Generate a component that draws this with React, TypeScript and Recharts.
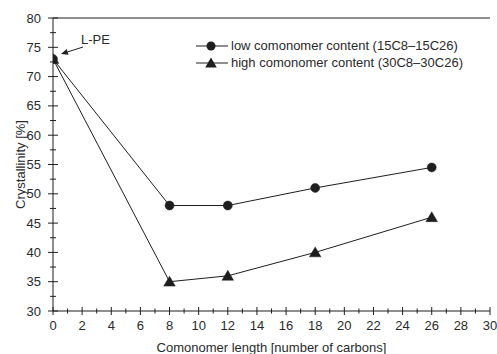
import React from 'react';
import { LineChart, Line, XAxis, YAxis, Legend, ReferenceLine, LabelList } from 'recharts';

// Comonomer length (number of carbons) and crystallinity (%) for the two series
const carbons = [0, 8, 12, 18, 26];
const lowContent = [73, 48, 48, 51, 54.5];
const highContent = [73, 35, 36, 40, 46];

const lowName = 'low comonomer content (15C8\u201315C26)';
const highName = 'high comonomer content (30C8\u201330C26)';
const seriesOrder = [lowName, highName];

const xTicks = [0, 1, 2, 3, 4, 5, 6, 7, 8, 9, 10, 11, 12, 13, 14, 15, 16, 17, 18, 19, 20, 21, 22, 23, 24, 25, 26, 27, 28, 29, 30];
const yTicks = [30, 32.5, 35, 37.5, 40, 42.5, 45, 47.5, 50, 52.5, 55, 57.5, 60, 62.5, 65, 67.5, 70, 72.5, 75, 77.5, 80];

const data = carbons.map((c, i) => ({ c, low: lowContent[i], high: highContent[i] }));

const INK = '#1e1e1e';
const TEXT = '#2a2a2a';
const FONT = '"Liberation Sans", Arial, sans-serif';
const FS = 13;

const XTick = (props: any) => {
  const { x, y, payload } = props;
  const major = payload.value % 2 === 0;
  const len = major ? 4 : 2.5;
  return (
    <g>
      <line x1={x} x2={x} y1={y - len} y2={y + len} stroke={INK} strokeWidth={1} />
      {major && (
        <text x={x} y={y + 19} textAnchor="middle" fill={TEXT} fontFamily={FONT} fontSize={FS}>
          {payload.value}
        </text>
      )}
    </g>
  );
};

const YTick = (props: any) => {
  const { x, y, payload } = props;
  const major = payload.value % 5 === 0;
  const len = major ? 5 : 3;
  return (
    <g>
      <line x1={x - len} x2={x + len} y1={y} y2={y} stroke={INK} strokeWidth={1} />
      {major && (
        <text x={x - 12} y={y + 4.5} textAnchor="end" fill={TEXT} fontFamily={FONT} fontSize={FS}>
          {payload.value}
        </text>
      )}
    </g>
  );
};

const RightTick = (props: any) => {
  const { x, y } = props;
  return <line x1={x - 4} x2={x} y1={y} y2={y} stroke={INK} strokeWidth={1} />;
};

const Triangle = (props: any) => {
  const { cx, cy, index } = props;
  if (cx == null || cy == null) return <g key={index} />;
  const s = 5.5;
  return (
    <path
      key={index}
      d={`M${cx},${cy - s} L${cx + s * 1.05},${cy + s * 0.8} L${cx - s * 1.05},${cy + s * 0.8} Z`}
      fill={INK}
      stroke={INK}
      strokeWidth={0.5}
    />
  );
};

const LpeNote = (props: any) => {
  const { x, y, index } = props;
  if (index !== 0) return null;
  const hx = x + 8;
  const hy = y - 5;
  const tx = x + 30;
  const ty = y - 12;
  const ang = Math.atan2(hy - ty, hx - tx);
  const L = 7;
  const W = 3;
  const bx = hx - L * Math.cos(ang);
  const by = hy - L * Math.sin(ang);
  const px = -Math.sin(ang) * W;
  const py = Math.cos(ang) * W;
  return (
    <g>
      <line x1={tx} y1={ty} x2={bx} y2={by} stroke={INK} strokeWidth={1} />
      <path d={`M${hx},${hy} L${bx + px},${by + py} L${bx - px},${by - py} Z`} fill={INK} />
      <text x={x + 28} y={y - 15} fill={TEXT} fontFamily={FONT} fontSize={FS}>
        L-PE
      </text>
    </g>
  );
};

const LegendContent = (props: any) => {
  const payload = [...(props.payload || [])].sort(
    (a: any, b: any) => seriesOrder.indexOf(a.value) - seriesOrder.indexOf(b.value)
  );
  return (
    <div style={{ fontFamily: FONT, fontSize: FS, color: TEXT }}>
      {payload.map((entry: any, i: number) => (
        <div key={i} style={{ display: 'flex', alignItems: 'center', height: 17 }}>
          <svg width={34} height={14} style={{ display: 'block' }}>
            <line x1={0} x2={32} y1={7} y2={7} stroke={INK} strokeWidth={1} />
            {entry.type === 'triangle' ? (
              <path d="M15,1.5 L20.8,11.4 L9.2,11.4 Z" fill={INK} />
            ) : (
              <circle cx={15} cy={7} r={4.5} fill={INK} />
            )}
          </svg>
          <span style={{ marginLeft: 1, whiteSpace: 'nowrap' }}>{entry.value}</span>
        </div>
      ))}
    </div>
  );
};

const YLabel = (props: any) => {
  const { viewBox } = props;
  const cx = viewBox.x + 20;
  const cy = viewBox.y + viewBox.height / 2;
  return (
    <text
      x={cx}
      y={cy}
      transform={`rotate(-90 ${cx} ${cy})`}
      textAnchor="middle"
      dominantBaseline="central"
      fill={TEXT}
      fontFamily={FONT}
      fontSize={FS}
    >
      Crystallinity [%]
    </text>
  );
};

const XLabel = (props: any) => {
  const { viewBox } = props;
  return (
    <text
      x={viewBox.x + viewBox.width / 2}
      y={viewBox.y + 41}
      textAnchor="middle"
      fill={TEXT}
      fontFamily={FONT}
      fontSize={FS}
    >
      Comonomer length [number of carbons]
    </text>
  );
};

export default function App() {
  return (
    <div style={{ position: 'absolute', left: 0, top: 0, background: '#fff' }}>
      <LineChart width={497} height={354} data={data} margin={{ top: 18, right: 7, bottom: 0, left: 0 }}>
        <XAxis
          dataKey="c"
          type="number"
          domain={[0, 30]}
          ticks={xTicks}
          interval={0}
          tickSize={0}
          tickMargin={0}
          tickLine={false}
          tick={<XTick />}
          axisLine={{ stroke: INK, strokeWidth: 1 }}
          height={43}
          allowDecimals
          allowDataOverflow
          label={<XLabel />}
        />
        <YAxis
          yAxisId="left"
          type="number"
          domain={[30, 80]}
          ticks={yTicks}
          interval={0}
          tickSize={0}
          tickMargin={0}
          tickLine={false}
          tick={<YTick />}
          axisLine={{ stroke: INK, strokeWidth: 1 }}
          width={53}
          label={<YLabel />}
        />
        <YAxis
          yAxisId="right"
          orientation="right"
          type="number"
          domain={[30, 80]}
          ticks={yTicks}
          interval={0}
          tickSize={0}
          tickMargin={0}
          tickLine={false}
          tick={<RightTick />}
          axisLine={{ stroke: INK, strokeWidth: 1 }}
          width={0}
        />
        <ReferenceLine yAxisId="left" y={80} stroke={INK} strokeWidth={1} />
        <Legend
          layout="horizontal"
          verticalAlign="middle"
          align="center"
          content={<LegendContent />}
          wrapperStyle={{ position: 'absolute', top: 37, left: 196, width: 290 }}
        />
        <Line
          yAxisId="left"
          dataKey="low"
          name={lowName}
          legendType="circle"
          stroke={INK}
          strokeWidth={1}
          dot={{ r: 4.5, fill: INK, stroke: INK, strokeWidth: 0.5 }}
          activeDot={false}
          isAnimationActive={false}
        >
          <LabelList dataKey="low" content={<LpeNote />} />
        </Line>
        <Line
          yAxisId="left"
          dataKey="high"
          name={highName}
          legendType="triangle"
          stroke={INK}
          strokeWidth={1}
          dot={<Triangle />}
          activeDot={false}
          isAnimationActive={false}
        />
      </LineChart>
    </div>
  );
}
